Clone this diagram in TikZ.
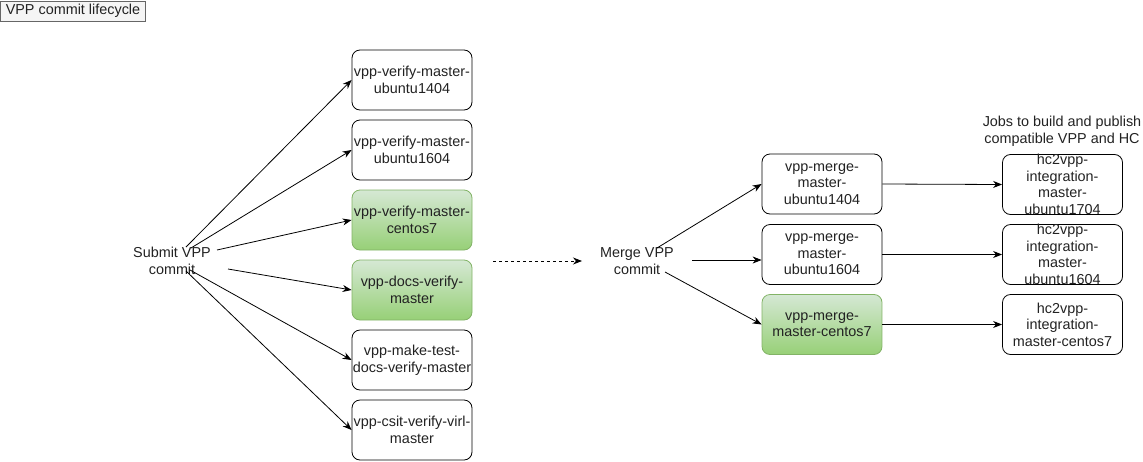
\documentclass[tikz,border=0pt]{standalone}
\usepackage{fontspec}
\setmainfont{Liberation Sans}
\usepackage{xcolor}
\usetikzlibrary{arrows.meta}
\usetikzlibrary{positioning}

\definecolor{greenline}{HTML}{82B366}
\definecolor{greentop}{HTML}{D5E8D4}
\definecolor{greenbottom}{HTML}{97D077}
\definecolor{titlefill}{HTML}{F5F5F5}
\definecolor{titleline}{HTML}{666666}
\definecolor{textgray}{HTML}{222222}

\begin{document}
\begin{tikzpicture}[x=1pt,y=-1pt,every path/.style={>={Stealth[length=9pt,width=7pt]}},
	font=\fontsize{14.4}{16.6}\selectfont,text=textgray,
	job/.style={draw,line width=0.8pt,rounded corners=8pt,minimum width=120pt,minimum height=60pt,inner sep=0pt,align=center},
	greenjob/.style={job,draw=greenline,top color=greentop,bottom color=greenbottom},
	link/.style={->,line width=0.8pt}]
		\useasboundingbox (0,0) rectangle (1143,461);
	
		% draw title box
		\node (title) at (73,11) [draw=titleline,fill=titlefill,line width=0.8pt,minimum width=145pt,minimum height=20pt,inner sep=0pt] {VPP commit lifecycle};
	
		% draw text nodes
		\node (submit) at (172,261) [align=center] {Submit VPP\\commit};
		\node (merge) at (637,261) [align=center] {Merge VPP\\commit};
		\node (jobs) at (1062,131) [align=center] {Jobs to build and publish\\compatible VPP and HC};
	
		% draw verify jobs
		\node (v1404) at (412,80) [job] {vpp-verify-master-\\ubuntu1404};
		\node (v1604) at (412,150) [job] {vpp-verify-master-\\ubuntu1604};
		\node (vcentos) at (412,220) [greenjob] {vpp-verify-master-\\centos7};
		\node (vdocs) at (412,290) [greenjob] {vpp-docs-verify-\\master};
		\node (vmaketest) at (412,360) [job] {vpp-make-test-\\docs-verify-master};
		\node (vcsit) at (412,430) [job] {vpp-csit-verify-virl-\\master};
	
		% draw merge jobs
		\node (m1404) at (822,184) [job] {vpp-merge-\\master-\\ubuntu1404};
		\node (m1604) at (822,254.5) [job] {vpp-merge-\\master-\\ubuntu1604};
		\node (mcentos) at (822,324.5) [greenjob] {vpp-merge-\\master-centos7};
	
		% draw hc2vpp jobs
		\node (hc1704) at (1062.5,184.5) [job,inner ysep=-3pt] {hc2vpp-\\integration-\\master-\\ubuntu1704};
		\node (hc1604) at (1062.5,254.5) [job,inner ysep=-3pt] {hc2vpp-\\integration-\\master-\\ubuntu1604};
		\node (hccentos) at (1062.5,324.5) [job] {hc2vpp-\\integration-\\master-centos7};
	
		% start points of the arrows round the text
		\coordinate (sub-1) at (186,247);
		\coordinate (sub-2) at (191,248);
		\coordinate (sub-3) at (217,250);
		\coordinate (sub-4) at (228,269);
		\coordinate (sub-5) at (190,270);
		\coordinate (sub-6) at (186,271);
		\coordinate (mrg-1) at (657,248);
		\coordinate (mrg-2) at (692,260);
		\coordinate (mrg-3) at (665,272);
		\coordinate (dash-start) at (493,261);
		\coordinate (dash-end) at (582,261);
	
		% draw lines from submit to verify jobs
		\draw[link] (sub-1) to (v1404.west);
		\draw[link] (sub-2) to (v1604.west);
		\draw[link] (sub-3) to (vcentos.west);
		\draw[link] (sub-4) to (vdocs.west);
		\draw[link] (sub-5) to (vmaketest.west);
		\draw[link] (sub-6) to (vcsit.west);
	
		% draw dashed line to merge
		\draw[link,dash pattern=on 3pt off 3pt] (dash-start) to (dash-end);
	
		% draw lines from merge to merge jobs
		\draw[link] (mrg-1) to (m1404.west);
		\draw[link] (mrg-2) to (mrg-2 -| m1604.west);
		\draw[link] (mrg-3) to (mcentos.west);
	
		% draw lines from merge jobs to hc2vpp jobs
		\draw[link] (m1404.east) to (hc1704.west);
		\draw[link] (m1604.east) to (hc1604.west);
		\draw[link] (mcentos.east) to (hccentos.west);
	\end{tikzpicture}
\end{document}
